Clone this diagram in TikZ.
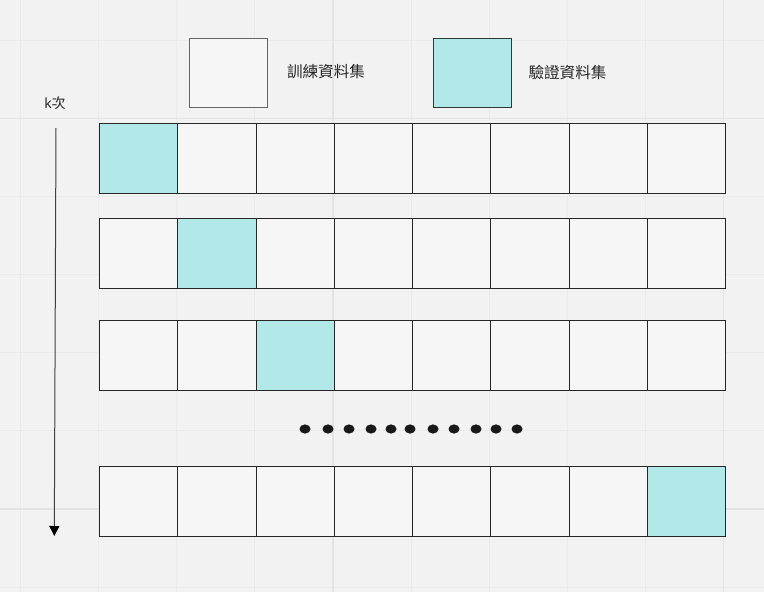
\documentclass[tikz,border=0pt]{standalone}
\usepackage{fontspec}
\setmainfont{Noto Sans}
\newfontfamily\cjk{Noto Sans CJK TC}
\usetikzlibrary{arrows.meta}
\definecolor{bgc}{HTML}{F2F2F2}
\definecolor{gridminor}{HTML}{EAEAEA}
\definecolor{gridmajor}{HTML}{E3E3E3}
\definecolor{cellfill}{HTML}{F6F6F6}
\definecolor{valfill}{HTML}{B2E8E8}
\definecolor{celledge}{HTML}{262626}
\definecolor{txt}{HTML}{262626}
\tikzset{
  cellbox/.style={draw=celledge, line width=1.2pt, fill=cellfill, minimum width=78.25pt, minimum height=70pt, inner sep=0pt, anchor=north west},
  valbox/.style={cellbox, fill=valfill},
  legendtrain/.style={draw=black!60, line width=0.9pt, fill=cellfill, minimum width=78pt, minimum height=69pt, inner sep=0pt, anchor=north west},
  legendval/.style={draw=black!75!valfill, line width=0.9pt, fill=valfill, minimum width=78pt, minimum height=69pt, inner sep=0pt, anchor=north west},
  lbl/.style={font=\cjk\fontsize{15.6pt}{17pt}\selectfont, text=txt, inner sep=0pt},
}
\begin{document}
\begin{tikzpicture}[x=1pt,y=-1pt]
\fill[bgc] (0,0) rectangle (764,592);
\useasboundingbox (0,0) rectangle (764,592);
% grid
\foreach \i in {0,...,9} {
  \draw[gridminor, line width=1pt] ({20.6+78.1*\i},0) -- ({20.6+78.1*\i},592);
}
\foreach \j in {0,...,7} {
  \draw[gridminor, line width=1pt] (0,{40.4+78.1*\j}) -- (764,{40.4+78.1*\j});
}
\draw[gridmajor, line width=1.6pt] (333,0) -- (333,592);
\draw[gridmajor, line width=1.6pt] (723.5,0) -- (723.5,592);
\draw[gridmajor, line width=1.6pt] (0,118.5) -- (764,118.5);
\draw[gridmajor, line width=1.6pt] (0,509) -- (764,509);
% legend
\node[legendtrain] (legT) at (189,37.5) {};
\node[lbl] (legTtext) at (326,72) {訓練資料集};
\node[legendval] (legV) at (433,37.5) {};
\node[lbl] (legVtext) at (567.5,72) {驗證資料集};
% rows
\foreach \r/\y/\v in {1/123/1, 2/218/2, 3/320/3, 4/466/8} {
  \foreach \c in {1,...,8} {
    \ifnum\c=\v
      \node[valbox] (r\r c\c) at ({99+78.25*(\c-1)},\y) {};
    \else
      \node[cellbox] (r\r c\c) at ({99+78.25*(\c-1)},\y) {};
    \fi
  }
}
% dots
\foreach \x in {305,328,349,371,391,410,433,454,476,496,517} {
  \fill[black!90] (\x,429) ellipse [x radius=5.5pt, y radius=4.6pt];
}
% arrow
\node[font=\fontsize{14pt}{16pt}\selectfont, text=txt, inner sep=0pt] (klabel) at (55,103) {k{\cjk 次}};
\coordinate (atop) at (56,128);
\coordinate (abot) at (54.3,536);
\draw[black!75, line width=1pt, -{Triangle[width=10pt,length=10pt,fill=black,color=black]}] (atop) -- (abot);
\end{tikzpicture}
\end{document}
